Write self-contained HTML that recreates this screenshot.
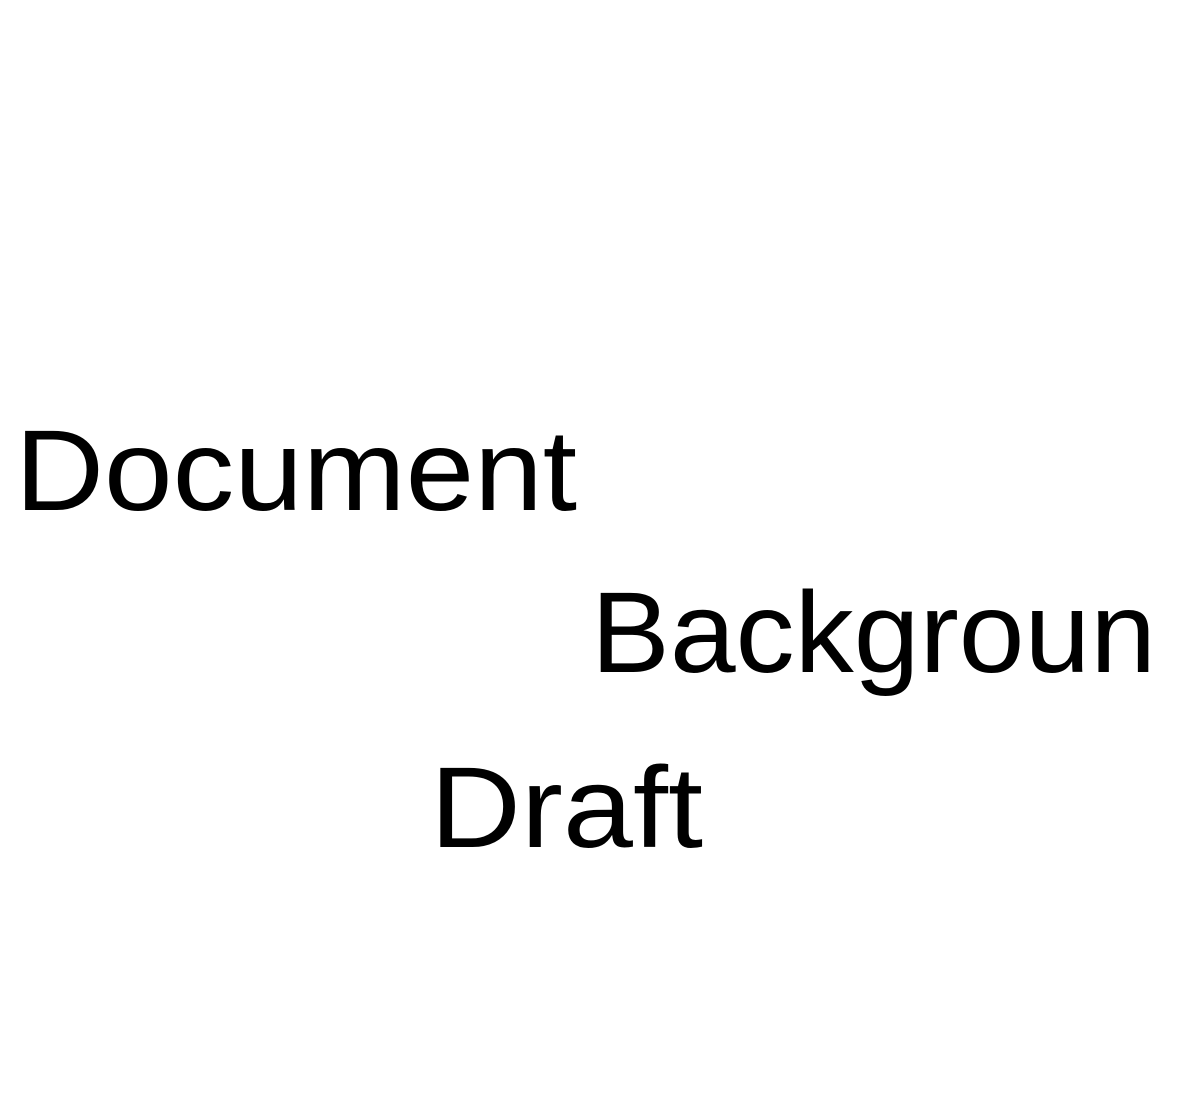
<!DOCTYPE html>
<html>
<head>
<meta charset="utf-8">
<style>
  html, body { margin: 0; padding: 0; background: #ffffff; }
  svg { display: block; }
</style>
</head>
<body>
<svg width="1200" height="1095" viewBox="0 0 1200 1095" xmlns="http://www.w3.org/2000/svg">
  <rect width="1200" height="1095" fill="#ffffff"/>
  <g font-family="Liberation Sans, DejaVu Sans, sans-serif" fill="#000000" font-size="115">
    <text x="15" y="510" textLength="562" lengthAdjust="spacingAndGlyphs">Document</text>
    <text x="591" y="672" textLength="565" lengthAdjust="spacingAndGlyphs">Backgroun</text>
    <text x="430" y="847" textLength="273" lengthAdjust="spacingAndGlyphs">Draft</text>
  </g>
</svg>
</body>
</html>
